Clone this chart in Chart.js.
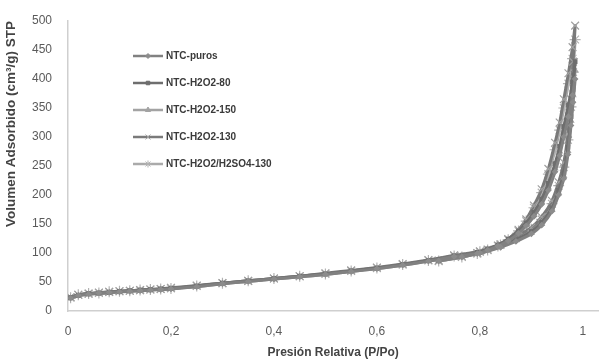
<!DOCTYPE html>
<html lang="es">
<head>
<meta charset="UTF-8">
<title>Isotermas NTC</title>
<script src="https://cdn.jsdelivr.net/npm/chart.js"></script>
<style>
    body { margin: 0; background: #fff; }
    #wrap { width: 605px; height: 360px; }
</style>
</head>
<body>
<div id="wrap"><canvas id="isoChart"></canvas></div>
<script>
    // Presión relativa: rama de adsorción y de desorción
    const pAds = [0.005, 0.02, 0.04, 0.06, 0.08, 0.1, 0.12, 0.14, 0.16, 0.18, 0.2, 0.25, 0.3, 0.35, 0.4, 0.45, 0.5, 0.55, 0.6, 0.65, 0.7, 0.75,
                  0.8, 0.84, 0.87, 0.9, 0.92, 0.94, 0.953, 0.963, 0.971, 0.977, 0.981, 0.985];
    const pDes = [0.98, 0.972, 0.963, 0.955, 0.946, 0.933, 0.92, 0.905, 0.89, 0.875, 0.855, 0.835, 0.815, 0.795, 0.765, 0.72];

    const seriesNames = ['NTC-puros', 'NTC-H2O2-80', 'NTC-H2O2-150', 'NTC-H2O2-130', 'NTC-H2O2/H2SO4-130'];

    // Volumen adsorbido (cm3/g STP)
    const adsPuros = [22, 27, 29, 31, 32, 33, 34, 35, 36, 37, 38, 42, 47, 51, 55, 59, 63, 68, 73, 79, 86, 94,
                      100, 110, 120, 133, 148, 172, 200, 228, 270, 320, 360, 400];
    const desPuros = [372, 335, 300, 268, 240, 208, 184, 163, 147, 134, 121, 112, 105, 99, 93, 86];

    const adsH80 = [23, 27, 30, 31, 32, 34, 35, 36, 37, 38, 39, 43, 48, 52, 56, 60, 64, 69, 74, 80, 87, 95,
                    101, 112, 123, 137, 153, 178, 208, 238, 282, 335, 385, 430];
    const desH80 = [395, 355, 318, 284, 254, 220, 193, 170, 152, 138, 124, 114, 107, 101, 94, 87];

    const adsH150 = [22, 26, 29, 30, 31, 33, 34, 35, 36, 37, 38, 42, 47, 51, 55, 59, 63, 68, 73, 79, 86, 94,
                     100, 111, 122, 135, 151, 175, 204, 233, 276, 328, 372, 415];
    const desH150 = [382, 344, 308, 275, 246, 213, 188, 166, 149, 136, 122, 113, 106, 100, 93, 86];

    const adsH130 = [24, 28, 30, 32, 33, 34, 35, 36, 37, 38, 40, 44, 48, 52, 56, 60, 65, 70, 75, 81, 88, 96,
                     103, 115, 128, 144, 162, 190, 222, 256, 305, 365, 430, 492];
    const desH130 = [455, 410, 365, 325, 290, 245, 210, 182, 158, 140, 124, 113, 106, 100, 94, 87];

    const adsSO4 = [23, 28, 30, 31, 33, 34, 35, 36, 37, 38, 39, 43, 48, 52, 56, 60, 64, 69, 74, 80, 87, 95,
                    102, 114, 126, 141, 158, 185, 216, 248, 295, 352, 412, 468];
    const desSO4 = [435, 392, 350, 312, 278, 236, 204, 178, 155, 138, 123, 112, 105, 99, 93, 86];

    const xTicks = [0, 0.2, 0.4, 0.6, 0.8, 1];

    function loop(ads, des) {
        const pts = pAds.map((p, i) => ({ x: p, y: ads[i] }));
        return pts.concat(pDes.map((p, i) => ({ x: p, y: des[i] })));
    }

    const styles = [
        { color: '#818181', point: 'rectRot', r: 2.5, pc: '#8c8c8c' },
        { color: '#6e6e6e', point: 'rect', r: 2.5, pc: '#6e6e6e' },
        { color: '#a3a3a3', point: 'triangle', r: 3, pc: '#a3a3a3' },
        { color: '#7a7a7a', point: 'crossRot', r: 5.5, pc: '#a0a0a0' },
        { color: '#aaaaaa', point: 'star', r: 5.5, pc: '#b3b3b3' }
    ];
    const loops = [
        loop(adsPuros, desPuros),
        loop(adsH80, desH80),
        loop(adsH150, desH150),
        loop(adsH130, desH130),
        loop(adsSO4, desSO4)
    ];

    const datasets = seriesNames.map((name, i) => ({
        label: name,
        data: loops[i],
        showLine: true,
        borderColor: styles[i].color,
        backgroundColor: styles[i].pc,
        borderWidth: 3,
        tension: 0.2,
        pointStyle: styles[i].point,
        pointRadius: styles[i].r,
        pointBorderColor: styles[i].pc,
        pointBackgroundColor: styles[i].pc,
        pointBorderWidth: 1.2
    }));

    const fontFam = '"Liberation Sans", Arial, sans-serif';

    // Leyenda dentro del área del gráfico
    const innerLegend = {
        id: 'innerLegend',
        afterDraw(chart) {
            const ctx = chart.ctx;
            ctx.save();
            ctx.font = 'bold 10px ' + fontFam;
            ctx.textBaseline = 'middle';
            datasets.forEach((ds, i) => {
                const y = 56 + i * 27;
                ctx.strokeStyle = ds.borderColor;
                ctx.lineWidth = 2.5;
                ctx.beginPath();
                ctx.moveTo(133, y);
                ctx.lineTo(163, y);
                ctx.stroke();
                ctx.strokeStyle = ds.pointBorderColor;
                ctx.fillStyle = ds.pointBackgroundColor;
                ctx.lineWidth = 1;
                Chart.helpers.drawPoint(ctx, {
                    pointStyle: ds.pointStyle,
                    radius: Math.min(ds.pointRadius, 3.5),
                    rotation: 0,
                    borderWidth: 1
                }, 148, y);
                ctx.fillStyle = '#3a3a3a';
                ctx.fillText(ds.label, 166, y);
            });
            ctx.restore();
        }
    };

    new Chart(document.getElementById('isoChart'), {
        type: 'scatter',
        data: { datasets: datasets },
        plugins: [innerLegend],
        options: {
            responsive: true,
            maintainAspectRatio: false,
            animation: false,
            layout: { padding: { top: 21, right: 0, left: 0, bottom: 0 } },
            plugins: {
                legend: { display: false },
                tooltip: { enabled: false }
            },
            scales: {
                x: {
                    type: 'linear',
                    min: 0,
                    max: 1.03,
                    grid: { display: false },
                    border: { color: '#cfcfcf', width: 1.5 },
                    afterBuildTicks(scale) {
                        scale.ticks = xTicks.map(v => ({ value: v }));
                    },
                    afterFit(scale) { scale.height = 49; },
                    ticks: {
                        color: '#5a5a5a',
                        font: { family: fontFam, size: 12 },
                        padding: 5,
                        callback: v => String(v).replace('.', ',')
                    },
                    title: {
                        display: true,
                        text: 'Presión Relativa (P/Po)',
                        color: '#444',
                        font: { family: fontFam, size: 12, weight: 'bold' },
                        padding: { top: 3, bottom: 0 }
                    }
                },
                y: {
                    min: 0,
                    max: 500,
                    grid: { display: false },
                    border: { color: '#cfcfcf', width: 1.5 },
                    afterFit(scale) { scale.width = 68; },
                    ticks: {
                        stepSize: 50,
                        color: '#5a5a5a',
                        font: { family: fontFam, size: 12 },
                        padding: 8
                    },
                    title: {
                        display: true,
                        text: 'Volumen Adsorbido (cm³/g) STP',
                        align: 'end',
                        color: '#444',
                        font: { family: fontFam, size: 13.5, weight: 'bold' },
                        padding: { top: 3, bottom: 0 }
                    }
                }
            }
        }
    });
</script>
</body>
</html>
